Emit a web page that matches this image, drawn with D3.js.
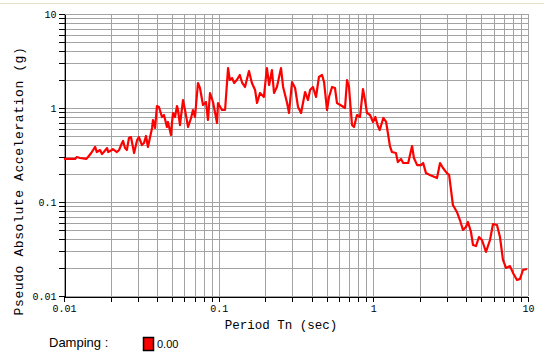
<!DOCTYPE html>
<html>
<head>
<meta charset="utf-8">
<script src="https://cdn.jsdelivr.net/npm/d3@7"></script>
<style>
  body { margin: 0; background: #fff; }
  svg { display: block; }
  .axis text { font-family: "Liberation Mono", "Courier New", monospace; font-size: 10px; fill: #000; }
  .axis line, .axis path { stroke: #000; shape-rendering: crispEdges; }
  .grid line { stroke: #a3a3a3; stroke-width: 1; shape-rendering: crispEdges; }
</style>
</head>
<body>
<div id="chart-area"></div>
<script>
// SVG Size
let width = 544,
	height = 354;

// spectrum: period (sec) and pseudo acceleration (g)
let period = [
	0.0100, 0.0118, 0.0121, 0.0127, 0.0139, 0.0143, 0.0150, 0.0159, 0.0163, 0.0171,
	0.0176, 0.0181, 0.0190, 0.0193, 0.0204, 0.0207, 0.0220, 0.0227, 0.0237, 0.0241,
	0.0248, 0.0255, 0.0263, 0.0271, 0.0279, 0.0284, 0.0297, 0.0305, 0.0319, 0.0329,
	0.0339, 0.0349, 0.0371, 0.0376, 0.0388, 0.0399, 0.0411, 0.0430, 0.0443, 0.0463,
	0.0470, 0.0492, 0.0499, 0.0507, 0.0522, 0.0538, 0.0546, 0.0562, 0.0588, 0.0606,
	0.0634, 0.0663, 0.0682, 0.0703, 0.0735, 0.0757, 0.0792, 0.0828, 0.0853, 0.0879,
	0.0919, 0.0976, 0.0990, 0.105, 0.110, 0.115, 0.118, 0.122, 0.126, 0.131,
	0.137, 0.142, 0.148, 0.157, 0.164, 0.172, 0.177, 0.185, 0.196, 0.205,
	0.212, 0.221, 0.228, 0.238, 0.253, 0.261, 0.277, 0.285, 0.298, 0.312,
	0.326, 0.341, 0.362, 0.378, 0.390, 0.407, 0.426, 0.445, 0.466, 0.480,
	0.502, 0.517, 0.541, 0.565, 0.582, 0.627, 0.656, 0.676, 0.696, 0.728,
	0.750, 0.784, 0.820, 0.857, 0.883, 0.910, 0.952, 0.995, 1.03, 1.07,
	1.10, 1.16, 1.21, 1.28, 1.32, 1.40, 1.44, 1.51, 1.56, 1.68,
	1.78, 1.83, 1.92, 2.03, 2.10, 2.19, 2.32, 2.58, 2.70, 2.82,
	2.99, 3.09, 3.27, 3.47, 3.63, 3.80, 3.97, 4.09, 4.28, 4.41,
	4.61, 4.82, 5.04, 5.35, 5.68, 5.94, 6.30, 6.59, 6.89, 7.21,
	7.65, 8.00, 8.49, 8.88, 9.28, 9.85
];
let psa = [
	0.287, 0.287, 0.301, 0.294, 0.287, 0.301, 0.332, 0.385, 0.340, 0.357,
	0.324, 0.340, 0.375, 0.340, 0.357, 0.366, 0.340, 0.357, 0.424, 0.446,
	0.375, 0.357, 0.480, 0.491, 0.385, 0.332, 0.457, 0.491, 0.404, 0.424,
	0.504, 0.385, 0.613, 0.745, 0.613, 1.050, 1.025, 0.802, 0.842, 0.628,
	0.710, 0.516, 0.692, 0.885, 0.802, 1.050, 0.952, 0.659, 1.216, 0.952,
	0.628, 0.783, 0.952, 0.802, 1.845, 1.632, 1.076, 1.158, 0.745, 1.444,
	1.158, 0.692, 1.130, 0.952, 0.952, 2.664, 1.986, 2.085, 1.845, 1.986,
	2.244, 1.845, 1.673, 2.475, 1.845, 1.554, 1.130, 1.444, 1.309, 2.664,
	1.757, 2.536, 1.444, 1.673, 2.664, 1.673, 1.130, 0.885, 1.891, 1.632,
	1.025, 0.885, 1.480, 1.216, 1.554, 1.673, 1.309, 2.137, 2.244, 1.891,
	0.952, 1.309, 1.673, 1.632, 1.130, 1.050, 1.000, 1.986, 1.673, 0.659,
	0.628, 0.842, 0.802, 1.593, 1.216, 0.885, 0.842, 0.710, 0.802, 0.643,
	0.583, 0.783, 0.710, 0.394, 0.340, 0.332, 0.266, 0.287, 0.260, 0.260,
	0.394, 0.294, 0.247, 0.247, 0.260, 0.203, 0.194, 0.180, 0.260, 0.230,
	0.203, 0.194, 0.0929, 0.0783, 0.0643, 0.0504, 0.0542, 0.0613, 0.0480, 0.0349,
	0.0340, 0.0424, 0.0394, 0.0294, 0.0394, 0.0583, 0.0569, 0.0424, 0.0242, 0.0199,
	0.0208, 0.0176, 0.0148, 0.0152, 0.0189, 0.0194
];

let xLabels = ["0.01", "0.1", "1", "10"];
let yLabels = ["0.01", "0.1", "1", "10"];
let damping = ["0.00"];

let data = period.map((p, i) => ({ period: p, psa: psa[i] }));

let padLeft = 64, padRight = 528, padTop = 14, padBottom = 296;

let xScale = d3.scaleLog()
			.domain([0.01, 10])
			.range([padLeft, padRight]);

let yScale = d3.scaleLog()
			.domain([0.01, 10])
			.range([padBottom, padTop]);

let svg = d3.select("#chart-area")
			.append('svg')
			.attr('width', width)
			.attr('height', height);

// thin frame line at the very top
svg.append('line')
	.attr('x1', 0).attr('x2', width)
	.attr('y1', 3.5).attr('y2', 3.5)
	.attr('stroke', '#e4e0c8')
	.attr('stroke-width', 1);

let xTicks = xScale.ticks();
let yTicks = yScale.ticks();

// grid
let grid = svg.append('g').attr('class', 'grid');
grid.selectAll('.vg')
	.data(xTicks)
	.enter()
	.append('line')
	.attr('x1', d => Math.round(xScale(d)) + 0.5)
	.attr('x2', d => Math.round(xScale(d)) + 0.5)
	.attr('y1', padTop)
	.attr('y2', padBottom);
grid.selectAll('.hg')
	.data(yTicks)
	.enter()
	.append('line')
	.attr('x1', padLeft)
	.attr('x2', padRight)
	.attr('y1', d => Math.round(yScale(d)) + 0.5)
	.attr('y2', d => Math.round(yScale(d)) + 0.5);

let fmtX = d => {
	let s = d3.format("~g")(d);
	return xLabels.includes(s) ? s : "";
};
let fmtY = d => {
	let s = d3.format("~g")(d);
	return yLabels.includes(s) ? s : "";
};

let xAxis = d3.axisBottom(xScale)
			.tickValues(xTicks)
			.tickFormat(fmtX)
			.tickSize(5)
			.tickSizeOuter(0)
			.tickPadding(3);

let yAxis = d3.axisLeft(yScale)
			.tickValues(yTicks)
			.tickFormat(fmtY)
			.tickSize(6)
			.tickSizeOuter(0)
			.tickPadding(2);

svg.append('g')
	.attr('class', 'axis x-axis')
	.attr('transform', 'translate(0,' + (padBottom + 0.5) + ')')
	.call(xAxis);

svg.append('g')
	.attr('class', 'axis y-axis')
	.attr('transform', 'translate(' + (padLeft + 0.5) + ',0)')
	.call(yAxis);

// curve
let line = d3.line()
			.x(d => xScale(d.period))
			.y(d => yScale(d.psa));

svg.append('path')
	.datum(data)
	.attr('d', line)
	.attr('fill', 'none')
	.attr('stroke', '#ff0000')
	.attr('stroke-width', 2.2)
	.attr('stroke-linejoin', 'round');

// titles
svg.append('text')
	.attr('x', 281)
	.attr('y', 329)
	.attr('text-anchor', 'middle')
	.style('font-family', '"Liberation Mono", "Courier New", monospace')
	.style('font-size', '12.5px')
	.text('Period Tn (sec)');

svg.append('text')
	.attr('transform', 'translate(23,' + 181 + ') rotate(-90)')
	.attr('text-anchor', 'middle')
	.style('font-family', '"Liberation Mono", "Courier New", monospace')
	.style('font-size', '13px')
	.style('letter-spacing', '0.6px')
	.text('Pseudo Absolute Acceleration (g)');

// legend
svg.append('text')
	.attr('x', 49)
	.attr('y', 347)
	.style('font-family', '"Liberation Sans", Arial, sans-serif')
	.style('font-size', '13px')
	.text('Damping :');

let legend = svg.selectAll('.leg')
			.data(damping)
			.enter()
			.append('g');
legend.append('rect')
	.attr('x', 143.5)
	.attr('y', 337.5)
	.attr('width', 10)
	.attr('height', 13)
	.attr('fill', '#ff0000')
	.attr('stroke', '#000')
	.attr('stroke-width', 1.5);
legend.append('text')
	.attr('x', 157)
	.attr('y', 348)
	.style('font-family', '"Liberation Sans", Arial, sans-serif')
	.style('font-size', '11px')
	.text(d => d);
</script>
</body>
</html>
